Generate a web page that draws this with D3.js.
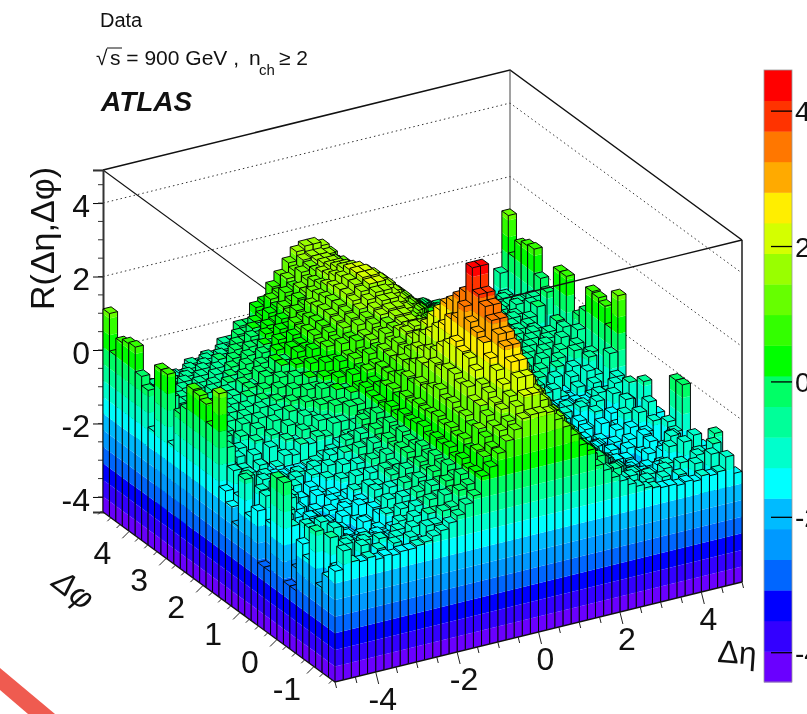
<!DOCTYPE html>
<html><head><meta charset="utf-8">
<script src="https://cdn.jsdelivr.net/npm/d3@7"></script>
<style>html,body{margin:0;padding:0;background:#fff;overflow:hidden}svg{display:block;filter:blur(0.45px)}text{font-family:"Liberation Sans",Arial,sans-serif;fill:#111}</style>
</head><body><svg id="c" width="807" height="714"></svg>
<script>
// R(deta,dphi) is symmetric by construction: values are read for eta>0 (25 columns, eta=0.1..4.9)
// and for |dphi| rows of 0.175 width; the peak bin row differs on its two sides.
const peakRow=[4.4,3.4,2.5,1.8,1.3,.7,.4,-.05,-.2,-.6,-.7,-1.05,-1.0,-1.45,-1.3,-1.7,-1.5,-1.9,-1.55,-1.85,-1.3,-1.9,-2.5,-1.1,-.02];
const k00=[3.8,3.1,2.35,1.8,1.15,.75,.25,.05,-.35,-.45,-.85,-.85,-1.2,-1.3,-1.6,-1.55,-1.85,-1.65,-1.95,-1.6,-1.35,-1.8,-2.3,-1.25,-.02];
const k01=[3.6,2.95,2.3,1.65,1.2,.65,.35,-.05,-.2,-.6,-.65,-1.05,-1,-1.35,-1.65,-1.45,-1.95,-1.7,-2,-1.5,-1.9,-1.4,-1.15,-2.3,-2.7];
const k02=[3.35,2.8,2.1,1.7,1.05,.7,.3,.05,-.3,-.45,-.85,-.85,-1.25,-1.2,-1.55,-1.85,-1.6,-2.05,-1.65,-1.95,-1.35,-1,-2.6,-1.6,-2.7];
const k03=[3.1,2.5,1.85,1.45,1.1,.6,.35,-.05,-.2,-.55,-.65,-1,-1,-1.45,-1.6,-1.5,-1.9,-1.65,-1.95,-1.5,-1.1,-1.9,-1.4,-.95,-1.3];
const k04=[2.9,2.3,1.75,1.45,.95,.65,.2,.05,-.35,-.4,-.8,-.85,-1.2,-1.15,-1.5,-1.75,-1.45,-1.85,-1.4,-1.7,-1.55,-.9,-2,-1.5,-1.6];
const k05=[2.6,2.05,1.6,1.3,1,.5,.3,-.1,-.2,-.55,-.6,-1.05,-.95,-1.35,-1.2,-1.55,-1.35,-1.6,-1.2,-1.75,-1.35,-1.6,-1.1,-2.4,-.7];
const k06=[2.3,1.85,1.55,1.15,.9,.6,.15,.05,-.35,-.4,-.8,-.8,-1.15,-1.05,-1.45,-1.2,-1.5,-1.15,-1.55,-1.1,-1.7,-1,-1.9,-.8,-2.1];
const k07=[1.95,1.7,1.35,1.15,.75,.55,.2,-.1,-.2,-.6,-.65,-.95,-.95,-1.3,-1.15,-1.45,-1.2,-1.5,-1.25,-1.55,-1.05,-1.65,-.9,-1.5,-1.7];
const k08=[1.55,1.5,1.25,1,.72,.4,.2,-.27,-.45,-.7,-.85,-1,-1.1,-1.2,-1.25,-1.3,-1.3,-1.35,-1.3,-1.35,-1.25,-1.3,-1.25,-.9,-1.4];
const k09=[1.65,1.55,1.3,1,.75,.4,.3,-.1,-.1,-.45,-.45,-.75,-.7,-.85,-.8,-1.05,-1,-1.25,-1.35,-1.1,-1.5,-1.1,-1.7,-.4,1.12];
const k10=[1.5,1.45,1.2,1.05,.7,.6,.2,.1,-.15,-.15,-.5,-.45,-.7,-.6,-.85,-.75,-1.1,-.85,-1.3,-.95,-1.5,-.9,-1.05,-1.75,.1];
const k11=[1.5,1.4,1.3,.95,.85,.5,.4,.05,.1,-.2,-.2,-.5,-.4,-.7,-.55,-.85,-.7,-1.05,-.75,-1.3,-.85,-1.55,-.7,-1.85,.58];
const k12=[1.55,1.4,1.2,1.05,.75,.65,.3,.25,0,.05,-.3,-.2,-.5,-.35,-.7,-.5,-.85,-.6,-1,-.7,-1.25,-.6,-1.6,-.75,.68];
const k13=[1.6,1.5,1.3,1.05,.95,.6,.5,.15,.2,-.05,-.05,-.35,-.25,-.55,-.4,-.7,-.5,-.8,-.55,-1.05,-.65,-1.4,-.6,-2,.72];
const k14=[1.7,1.55,1.35,1.2,.9,.8,.4,.4,.05,.1,-.2,-.1,-.4,-.3,-.6,-.4,-.75,-.5,-.9,-.55,-1.15,-.5,-2,-.4,.05];
const k15=[1.8,1.65,1.45,1.25,1.05,.75,.65,.3,.3,-.05,.05,-.3,-.15,-.45,-.35,-.65,-.45,-.8,-.5,-1,-.6,-1.3,-.4,-1.8,-.2];
const k16=[1.9,1.75,1.55,1.3,1.1,.85,.6,.5,.2,.2,-.1,-.05,-.35,-.25,-.55,-.35,-.7,-.45,-.9,-.5,-1.15,-.6,-.36,-3.4,-1.2];
const k17=[1.95,1.8,1.6,1.35,1.15,.9,.7,.4,.35,.05,.1,-.2,-.1,-.4,-.3,-.6,-.4,-.75,-.5,-.95,-.6,-1.2,-1.5,-2.3,.62];
const foldedRows=[k00,k01,k02,k03,k04,k05,k06,k07,k08,k09,k10,k11,k12,k13,k14,k15,k16,k17];
const palette=["#6a00ff","#3300ff","#0000ff","#0066ff","#0099ff","#00bbff","#00ffff","#00ffcc","#00ff99","#00ff66","#00ff00","#33ff00","#66ff00","#99ff00","#d4ff00","#ffee00","#ffaa00","#ff7700","#ff3300","#ff0000"];
const zTicks=[-4,-2,0,2,4], zMinor=d3.range(-4.0,5,0.5);
const etaLabels=[-4,-2,0,2,4], phiLabels=[-1,0,1,2,3,4];
const nEta=50,nPhi=36,etaMin=-5,etaMax=5,phiMin=-Math.PI/2,phiMax=3*Math.PI/2;
const zMin=-4.41,zMax=4.9,cMin=-4.44,cMax=4.6;

const etaX=d3.scaleLinear([etaMin,etaMax],[0,407]),etaY=d3.scaleLinear([etaMin,etaMax],[0,-100]);
const phiX=d3.scaleLinear([phiMin,phiMax],[0,-232]),phiY=d3.scaleLinear([phiMin,phiMax],[0,-170]);
const zH=d3.scaleLinear([zMin,zMax],[0,342]);
const P=(e,p,z)=>[335+etaX(e)+phiX(p),682+etaY(e)+phiY(p)-zH(z)];
const color=d3.scaleQuantize().domain([cMin,cMax]).range(palette);
const step=(cMax-cMin)/palette.length;
const line=d3.line();
const H=(i,j)=>{
  if(i<0||j<0||i>=nEta||j>=nPhi) return zMin;
  const c=i>=25?i-25:24-i;
  if(j===9) return peakRow[c];
  const k=j>=9&&j<=26?j-9:(j<=8?8-j:44-j);
  return foldedRows[k][c];
};
const dE=(etaMax-etaMin)/nEta,dP=(phiMax-phiMin)/nPhi;
const svg=d3.select("#c");

// red stripe in the page corner
svg.append("path").attr("d",line([[0,668],[55,714],[28,714],[0,690]])).attr("fill","#ef5b50");

// walls
const wall=svg.append("g");
zTicks.forEach(z=>{
  wall.append("path").attr("d",line([P(etaMin,phiMax,z),P(etaMax,phiMax,z),P(etaMax,phiMin,z)]))
    .attr("fill","none").attr("stroke","#333").attr("stroke-width",1).attr("stroke-dasharray","1.5 3");
});
const boxLine=(pts,w,c)=>wall.append("path").attr("d",line(pts)).attr("fill","none").attr("stroke",c||"#111").attr("stroke-width",w||1.2);
boxLine([P(etaMin,phiMax,zMax),P(etaMax,phiMax,zMax),P(etaMax,phiMin,zMax)],1.5);
boxLine([P(etaMin,phiMax,zMax),P(etaMin,phiMin,zMax)],1.1);
boxLine([P(etaMax,phiMax,zMin),P(etaMax,phiMax,zMax)],1,"#444");
boxLine([P(etaMax,phiMin,zMin),P(etaMax,phiMin,zMax)],2,"#555");

// z axis
const zAxisScale=d3.scaleLinear([zMin,zMax],[512,170]);
const zAxis=svg.append("g").attr("transform","translate(103,0)")
  .call(d3.axisLeft(zAxisScale).tickValues(zTicks).tickSize(10).tickPadding(3).tickFormat(String));
zAxis.select(".domain").attr("stroke","#333").attr("stroke-width",2);
zAxis.selectAll("text").attr("font-size",32).attr("dy","0.42em");
zMinor.forEach(z=>zAxis.append("line").attr("x1",-5).attr("x2",0).attr("y1",zAxisScale(z)).attr("y2",zAxisScale(z)).attr("stroke","#333"));
[zMax-0.01].forEach(z=>zAxis.append("line").attr("x1",-10).attr("x2",0).attr("y1",zAxisScale(z)).attr("y2",zAxisScale(z)).attr("stroke","#333"));

// bars: painter order, far corner first
const items=[];
function face(a,b,lo,hi,shade){
  if(hi<=lo) return;
  const n0=Math.floor((lo-cMin)/step),n1=Math.floor((hi-cMin-1e-6)/step);
  for(let n=n0;n<=n1;n++){
    const z0=Math.max(lo,cMin+n*step),z1=Math.min(hi,cMin+(n+1)*step);
    const col=palette[Math.max(0,Math.min(palette.length-1,n))];
    items.push({d:line([P(a[0],a[1],z0),P(b[0],b[1],z0),P(b[0],b[1],z1),P(a[0],a[1],z1)]),fill:d3.color(col).darker(shade)+"",stroke:"none"});
  }
}
for(let j=nPhi-1;j>=0;j--){
  for(let i=nEta-1;i>=0;i--){
    const h=H(i,j),hl=H(i-1,j),hf=H(i,j-1);
    const e0=etaMin+i*dE,e1=e0+dE,p0=phiMin+j*dP,p1=p0+dP;
    face([e0,p1],[e0,p0],hl,h,0.05);
    face([e0,p0],[e1,p0],hf,h,0);
    const segs=[];
    if(h>hl) segs.push(line([P(e0,p1,hl),P(e0,p1,h)]));
    if(h>hf) segs.push(line([P(e1,p0,hf),P(e1,p0,h)]));
    if(h>Math.min(hl,hf)) segs.push(line([P(e0,p0,Math.max(zMin,Math.min(hl,hf))),P(e0,p0,h)]));
    items.push({d:line([P(e0,p0,h),P(e1,p0,h),P(e1,p1,h),P(e0,p1,h)])+"Z",fill:color(h),stroke:"#000"});
    if(segs.length) items.push({d:segs.join(""),fill:"none",stroke:"#000"});
  }
  if(j===10) items.push({d:line([P(etaMax,phiMin,zMax),P(-1.55,phiMin,zMax)]),fill:"none",stroke:"#111",w:1.3});
}
svg.append("g").selectAll("path").data(items).join("path")
  .attr("d",d=>d.d).attr("fill",d=>d.fill).attr("stroke",d=>d.stroke)
  .attr("stroke-width",d=>d.w||0.95).attr("stroke-linejoin","round");

// floor edges and skewed axes
const axisG=svg.append("g").attr("stroke","#222").attr("fill","none");
axisG.append("path").attr("d",line([P(etaMin,phiMax,zMin),P(etaMin,phiMin,zMin),P(etaMax,phiMin,zMin)])).attr("stroke-width",1.3).attr("stroke","#111");
d3.range(-5,5.01,0.5).forEach(v=>{
  const p=P(v,phiMin,zMin),big=Number.isInteger(v/2);
  axisG.append("line").attr("x1",p[0]).attr("y1",p[1]).attr("x2",p[0]+(big?3:1.5)).attr("y2",p[1]+(big?12:6));
});
d3.range(-1.5,4.76,0.25).forEach(v=>{
  const p=P(etaMin,v,zMin),big=Number.isInteger(v);
  axisG.append("line").attr("x1",p[0]).attr("y1",p[1]).attr("x2",p[0]-(big?7:3.5)).attr("y2",p[1]+(big?7:3.5));
});
etaLabels.forEach(v=>{const p=P(v,phiMin,zMin);
  svg.append("text").attr("x",p[0]+7).attr("y",p[1]+38).attr("text-anchor","middle").attr("font-size",32).text(v);});
phiLabels.forEach(v=>{const p=P(etaMin,v,zMin);
  svg.append("text").attr("x",p[0]-27).attr("y",p[1]+33).attr("text-anchor","middle").attr("font-size",32).text(v);});

// axis titles
svg.append("text").attr("transform","translate(54,310) rotate(-90)").attr("font-size",34).text("R(Δη,Δφ)");
svg.append("text").attr("transform","translate(717,662) rotate(4)").attr("font-size",32).text("Δη");
svg.append("text").attr("transform","translate(50,585) rotate(38)").attr("font-size",32).attr("font-style","italic").text("Δφ");

// colour bar
const cScale=d3.scaleLinear([cMin,cMax],[682,70]);
const cb=svg.append("g");
cb.selectAll("rect").data(palette).join("rect")
  .attr("x",764).attr("width",28)
  .attr("y",(d,i)=>cScale(cMin+(i+1)*step)).attr("height",(d,i)=>cScale(cMin+i*step)-cScale(cMin+(i+1)*step)+0.4)
  .attr("fill",d=>d);
cb.append("rect").attr("x",764).attr("y",70).attr("width",28).attr("height",612).attr("fill","none").attr("stroke","#999").attr("stroke-width",0.8);
const cAxis=cb.append("g").attr("transform","translate(792,0)")
  .call(d3.axisRight(cScale).tickValues(zTicks).tickSize(-21).tickPadding(3).tickFormat(String));
cAxis.select(".domain").remove();
cAxis.selectAll("text").attr("font-size",28).attr("dy","0.36em");
cAxis.selectAll("line").attr("stroke","#000").attr("stroke-width",1.3);

// header text
svg.append("text").attr("x",100).attr("y",27).attr("font-size",20).text("Data");
const t=svg.append("text").attr("y",65).attr("font-size",21);
t.append("tspan").attr("x",96).text("√");
t.append("tspan").attr("x",110).text("s = 900 GeV ,");
t.append("tspan").attr("x",249).text("n");
t.append("tspan").attr("x",259).attr("dy",10).attr("font-size",15).text("ch");
t.append("tspan").attr("x",279).attr("dy",-10).text("≥ 2");
svg.append("line").attr("x1",107).attr("x2",122).attr("y1",48).attr("y2",48).attr("stroke","#111").attr("stroke-width",1);
svg.append("text").attr("x",101).attr("y",111).attr("font-size",28).attr("font-weight","bold").attr("font-style","italic").text("ATLAS");
</script></body></html>
